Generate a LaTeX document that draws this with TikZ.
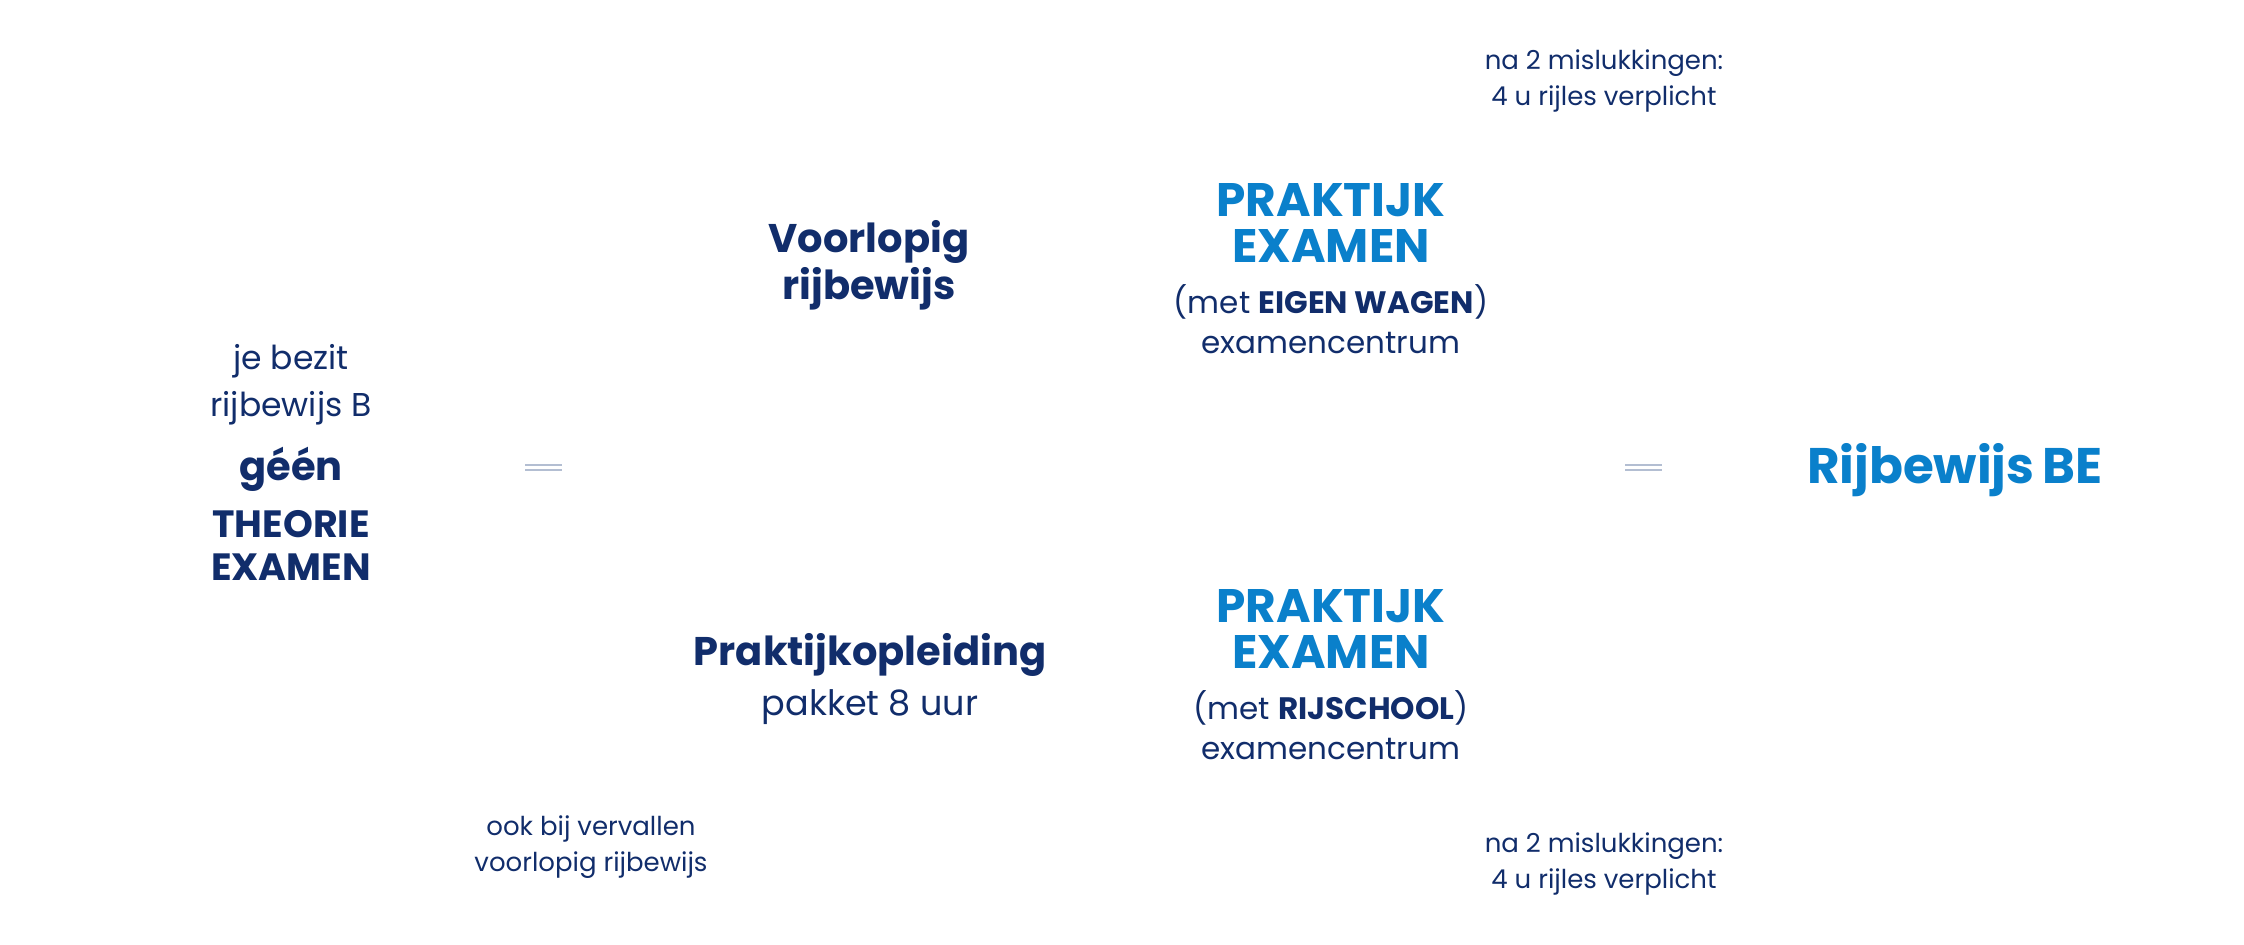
\documentclass[tikz,border=0pt]{standalone}
\usepackage{fontspec}
\setmainfont{Poppins}
\definecolor{navy}{HTML}{112D6B}
\definecolor{bl}{HTML}{0A80CB}
\definecolor{eq}{HTML}{B3BED2}
\begin{document}
\begin{tikzpicture}[x=1pt,y=-1pt,
  t/.style={text=navy,align=center,inner sep=0pt,anchor=center},
  sm/.style={t,font=\fontsize{26}{36}\selectfont},
  md/.style={t,font=\fontsize{31}{40}\selectfont},
  hd/.style={t,font=\fontsize{40}{47}\selectfont\bfseries},
  pk/.style={t,text=bl,font=\fontsize{47}{46}\selectfont\bfseries},
  eqs/.style={draw=eq,line width=2pt}]
\useasboundingbox (0,0) rectangle (2244,945);
\node[sm] (n1) at (1604,81) {na 2 mislukkingen:\\4 u rijles verplicht};
\node[hd] (vr) at (869,265) {Voorlopig\\rijbewijs};
\node[pk] (p1) at (1331,223) {PRAKTIJK\\EXAMEN};
\node[md] (m1) at (1331,319) {(met \textbf{EIGEN WAGEN})\\examencentrum};
\node[t,font=\fontsize{33}{47}\selectfont] (jb) at (291,385) {je bezit\\rijbewijs B};
\node[t,font=\fontsize{40}{48}\selectfont\bfseries] (ge) at (291,469) {géén};
\node[t,font=\fontsize{38}{43}\selectfont\bfseries] (th) at (291,545) {THEORIE\\EXAMEN};
\coordinate (e1a) at (525,465); \coordinate (e1b) at (562,465);
\coordinate (e1c) at (525,470); \coordinate (e1d) at (562,470);
\draw[eqs] (e1a) -- (e1b); \draw[eqs] (e1c) -- (e1d);
\coordinate (e2a) at (1625,465); \coordinate (e2b) at (1662,465);
\coordinate (e2c) at (1625,470); \coordinate (e2d) at (1662,470);
\draw[eqs] (e2a) -- (e2b); \draw[eqs] (e2c) -- (e2d);
\node[t,text=bl,font=\fontsize{50}{50}\selectfont\bfseries] (be) at (1955,470) {Rijbewijs\,BE};
\node[hd] (po) at (870,655) {Praktijkopleiding};
\node[t,font=\fontsize{35}{40}\selectfont] (pa) at (870,707) {pakket 8 uur};
\node[pk] (p2) at (1331,629) {PRAKTIJK\\EXAMEN};
\node[md] (m2) at (1331,725) {(met \textbf{RIJSCHOOL})\\examencentrum};
\node[sm] (ok) at (591,847) {ook bij vervallen\\voorlopig rijbewijs};
\node[sm] (n2) at (1604,864) {na 2 mislukkingen:\\4 u rijles verplicht};
\end{tikzpicture}
\end{document}
